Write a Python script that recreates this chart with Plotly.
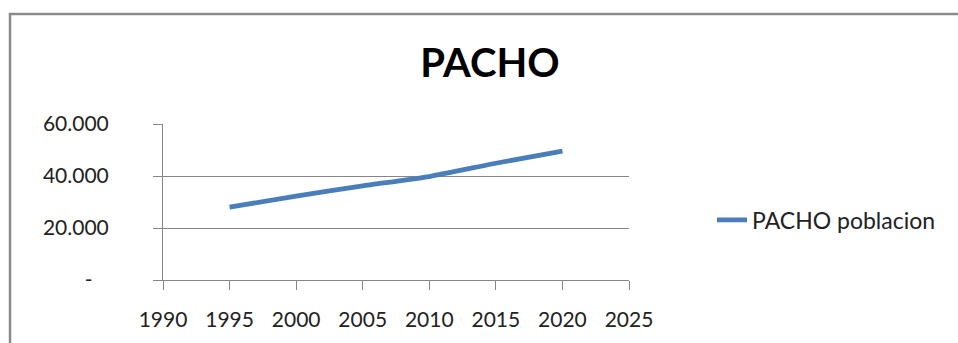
import plotly.graph_objects as go

years = [1995, 2000, 2005, 2010, 2015, 2020]
poblacion = [28000, 32300, 36200, 39800, 44900, 49600]
series_name = "PACHO poblacion"
title_text = "PACHO"
x_ticks = [1990, 1995, 2000, 2005, 2010, 2015, 2020, 2025]
y_ticks = [0, 20000, 40000, 60000]
y_ticktext = ["-\u00a0\u00a0\u00a0", "20.000", "40.000", "60.000"]

W, H = 958, 343
L, R, T, B = 163, 329, 124, 59
FONT = "Lato"
GRAY = "#868686"

fig = go.Figure()
fig.add_trace(go.Scatter(
    x=years, y=poblacion, mode="lines", name=series_name,
    line=dict(color="#4A7EBB", width=4.8, shape="spline", smoothing=0.5),
))

fig.update_layout(
    width=W, height=H,
    margin=dict(l=L, r=R, t=T, b=B, pad=0),
    paper_bgcolor="white", plot_bgcolor="white",
    font=dict(family=FONT, size=21, color="#222222"),
    title=dict(text="<b>" + title_text + "</b>", x=490 / W, xanchor="center",
               xref="container", yref="container", y=1 - 63 / H, yanchor="middle",
               font=dict(family=FONT, size=40, color="#000000")),
    showlegend=True,
    legend=dict(x=(712 - L) / (W - L - R), xanchor="left",
                y=(283.7 - 222) / (H - T - B), yanchor="middle",
                bgcolor="rgba(0,0,0,0)", font=dict(family=FONT, size=23, color="#222222")),
    xaxis=dict(range=[1990, 2025], tickmode="array", tickvals=x_ticks,
               showgrid=False, showline=True, linecolor=GRAY, linewidth=1,
               ticks="outside", ticklen=9, tickcolor=GRAY, tickwidth=1,
               ticklabelstandoff=12, zeroline=False, fixedrange=True),
    yaxis=dict(range=[0, 60000], tickmode="array", tickvals=y_ticks, ticktext=y_ticktext,
               showgrid=True, gridcolor=GRAY, gridwidth=1,
               showline=True, linecolor=GRAY, linewidth=1,
               ticks="outside", ticklen=9, tickcolor=GRAY, tickwidth=1,
               ticklabelstandoff=40, zeroline=False, fixedrange=True),
)

pw, ph = W - L - R, H - T - B
fig.add_shape(type="rect", xref="paper", yref="paper",
              x0=(10 - L) / pw, x1=(W + 20 - L) / pw,
              y0=(283.7 - (H + 20)) / ph, y1=(283.7 - 11) / ph,
              line=dict(color="#8A8A8A", width=2.5), fillcolor="rgba(0,0,0,0)", layer="below")

fig.write_html("out.html", config={"displayModeBar": False})
